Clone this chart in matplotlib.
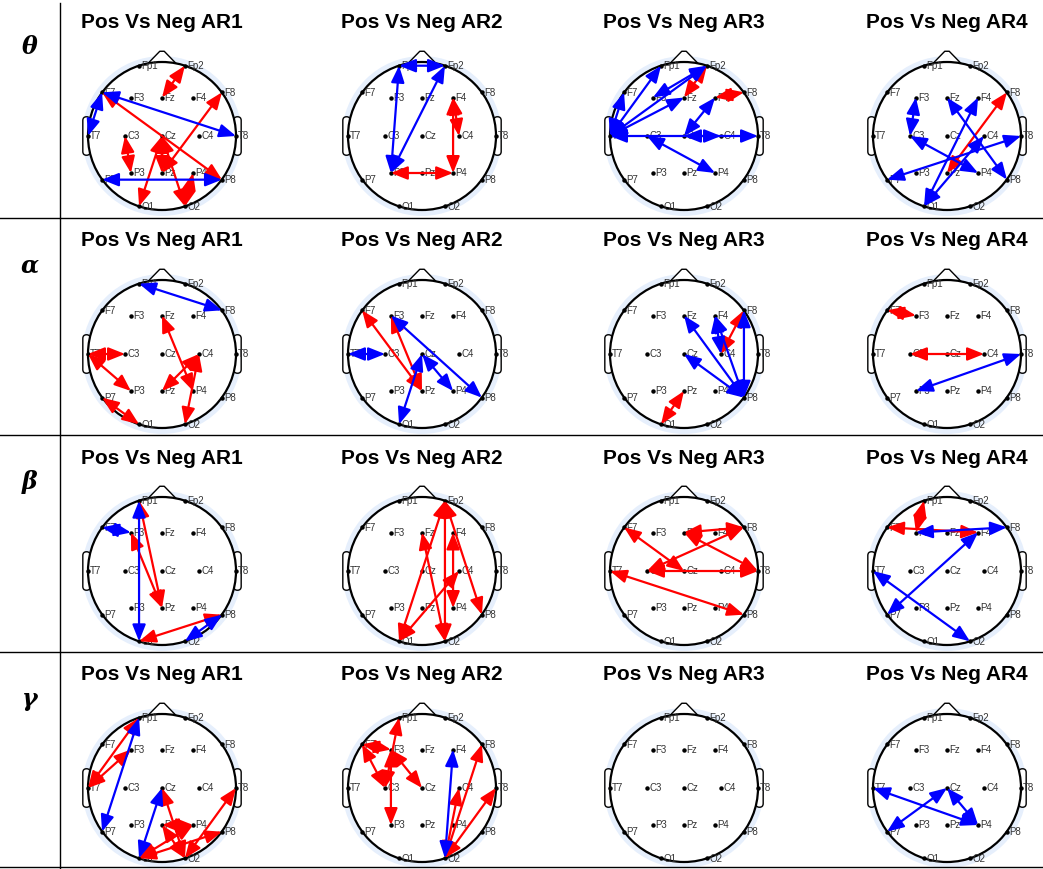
import matplotlib
matplotlib.use("Agg")
import matplotlib.pyplot as plt
from matplotlib.patches import Circle, FancyArrowPatch, FancyBboxPatch, Polygon
from matplotlib.lines import Line2D

plt.rcParams["font.family"] = ["Liberation Sans", "DejaVu Sans"]

bands = ["θ", "α", "β", "γ"]
regions = ["AR1", "AR2", "AR3", "AR4"]

# 10-20 montage, head radius = 1
channels = ["Fp1", "Fp2", "F7", "F3", "Fz", "F4", "F8", "T7", "C3", "Cz",
            "C4", "T8", "P7", "P3", "Pz", "P4", "P8", "O1", "O2"]
chan_x = [-0.31, 0.31, -0.81, -0.42, 0.0, 0.42, 0.81, -1.0, -0.5, 0.0,
          0.5, 1.0, -0.81, -0.42, 0.0, 0.42, 0.81, -0.31, 0.31]
chan_y = [0.95, 0.95, 0.59, 0.52, 0.52, 0.52, 0.59, 0.0, 0.0, 0.0,
          0.0, 0.0, -0.59, -0.5, -0.5, -0.5, -0.59, -0.95, -0.95]

# connections stronger for Pos (red) / for Neg (blue), one list per AR
theta_pos = [
    [("Fp2", "Fz"), ("F7", "P8"), ("F8", "Pz"), ("C3", "P3"), ("Cz", "O1"),
     ("Cz", "O2"), ("Cz", "Pz"), ("P4", "O2")],
    [("F4", "C4"), ("F4", "P4"), ("P3", "P4")],
    [("Fp2", "Fz"), ("F4", "F8")],
    [("F8", "Pz")],
]
theta_neg = [
    [("F7", "T8"), ("F7", "T7"), ("P7", "P8")],
    [("Fp1", "Fp2"), ("Fp1", "P3"), ("Fp2", "P3")],
    [("T7", "Fp1"), ("T7", "F7"), ("T7", "Fp2"), ("Fp2", "F3"), ("T7", "Fz"),
     ("T7", "T8"), ("Cz", "C4"), ("Cz", "F4"), ("C3", "P4")],
    [("F3", "C3"), ("Fz", "P8"), ("F4", "O1"), ("C3", "P4"), ("T8", "P7"),
     ("C4", "O1")],
]
alpha_pos = [
    [("T7", "C3"), ("T7", "P3"), ("P7", "O1"), ("Fz", "P4"), ("C4", "Pz"),
     ("C4", "O2")],
    [("F7", "Pz"), ("F3", "Pz")],
    [("F8", "C4"), ("Pz", "O1")],
    [("F7", "F3"), ("C3", "C4")],
]
alpha_neg = [
    [("Fp1", "F8")],
    [("F3", "P8"), ("T7", "C3"), ("Cz", "P4"), ("Cz", "O1")],
    [("Fz", "P8"), ("Cz", "P8"), ("F4", "P8"), ("F8", "P8"), ("F4", "C4")],
    [("T8", "P3")],
]
beta_pos = [
    [("Fp1", "Pz"), ("F3", "Pz"), ("P8", "O1")],
    [("Fp2", "O1"), ("Fp2", "O2"), ("Fp2", "P8"), ("Fz", "O2"), ("F4", "P4"),
     ("C4", "O1")],
    [("F7", "Cz"), ("Fz", "F8"), ("Fz", "T8"), ("F8", "C3"), ("C3", "T8"),
     ("T7", "P8")],
    [("F7", "F4"), ("Fp1", "F3")],
]
beta_neg = [
    [("F7", "F3"), ("Fp1", "O1"), ("P8", "O2")],
    [],
    [],
    [("F3", "F8"), ("F4", "P7"), ("T7", "O2")],
]
gamma_pos = [
    [("Fp1", "T7"), ("F3", "T7"), ("Cz", "O2"), ("Pz", "P4"), ("O1", "P4"),
     ("O1", "P8"), ("T8", "O2"), ("Pz", "O2")],
    [("F7", "C3"), ("F3", "P3"), ("Fp1", "C3"), ("F3", "Cz"), ("F7", "F3"),
     ("C4", "O2"), ("T8", "O2"), ("F8", "O2")],
    [],
    [],
]
gamma_neg = [
    [("Fp1", "P7"), ("Cz", "O1")],
    [("F4", "O2")],
    [],
    [("T7", "P4"), ("Cz", "P7"), ("Cz", "P4")],
]

pos_links = [theta_pos, alpha_pos, beta_pos, gamma_pos]
neg_links = [theta_neg, alpha_neg, beta_neg, gamma_neg]

W, H = 1043, 869
fig = plt.figure(figsize=(W / 100, H / 100), dpi=100)

col_cx = [162, 422, 684, 947]
row_top = [0, 218, 435, 652]
head_dy = 136
scale = 74.0      # pixels per head radius
half = 96         # half size of each head axes in pixels
lim = half / scale

loc = {name: (x, y) for name, x, y in zip(channels, chan_x, chan_y)}


def draw_head(ax):
    ax.add_patch(Circle((0, 0), 1.08, facecolor="#e6effc", edgecolor="none", zorder=1))
    for side in (-1, 1):
        ear = FancyBboxPatch((side * 1.02 - 0.05, -0.26), 0.10, 0.52,
                             boxstyle="round,pad=0,rounding_size=0.05",
                             facecolor="white", edgecolor="black", lw=1.0, zorder=2)
        ax.add_patch(ear)
    nose = Polygon([(-0.2, 0.97), (-0.03, 1.145), (0.03, 1.145), (0.2, 0.97)],
                   closed=True, facecolor="white", edgecolor="black", lw=1.0,
                   joinstyle="round", zorder=2)
    ax.add_patch(nose)
    ax.add_patch(Circle((0, 0), 1.0, facecolor="white", edgecolor="black", lw=1.6, zorder=3))
    for name in channels:
        x, y = loc[name]
        ax.plot(x, y, "o", color="black", ms=2.2, zorder=4)
        ax.text(x + 0.03, y - 0.005, name, fontsize=7, color="#333333",
                ha="left", va="center", zorder=4)


def draw_links(ax, links, color):
    for a, b in links:
        arr = FancyArrowPatch(loc[a], loc[b],
                              arrowstyle="<|-|>,head_length=1.0,head_width=0.4",
                              mutation_scale=10, color=color, lw=1.6,
                              shrinkA=0, shrinkB=0, zorder=6)
        ax.add_patch(arr)


for i, band in enumerate(bands):
    top = row_top[i]
    fig.text(30 / W, 1 - (top + 47) / H, band, fontsize=17,
             family="DejaVu Serif", style="italic", weight="bold",
             ha="center", va="center")
    for j, reg in enumerate(regions):
        cx = col_cx[j]
        cy = top + head_dy
        fig.text(cx / W, 1 - (top + 23) / H, "Pos Vs Neg " + reg,
                 fontsize=15, weight="bold", ha="center", va="center")
        ax = fig.add_axes([(cx - half) / W, 1 - (cy + half) / H, 2 * half / W, 2 * half / H])
        ax.set_xlim(-lim, lim)
        ax.set_ylim(-lim, lim)
        ax.axis("off")
        draw_head(ax)
        draw_links(ax, pos_links[i][j], "#ff0000")
        draw_links(ax, neg_links[i][j], "#0000ff")

# table rules
fig.add_artist(Line2D([60 / W, 60 / W], [0, 1 - 3 / H], color="black", lw=1.0))
for yy in [218, 435, 652, 867]:
    fig.add_artist(Line2D([0, 1], [1 - yy / H, 1 - yy / H], color="black", lw=1.0))

fig.savefig("out.png", dpi=100)
